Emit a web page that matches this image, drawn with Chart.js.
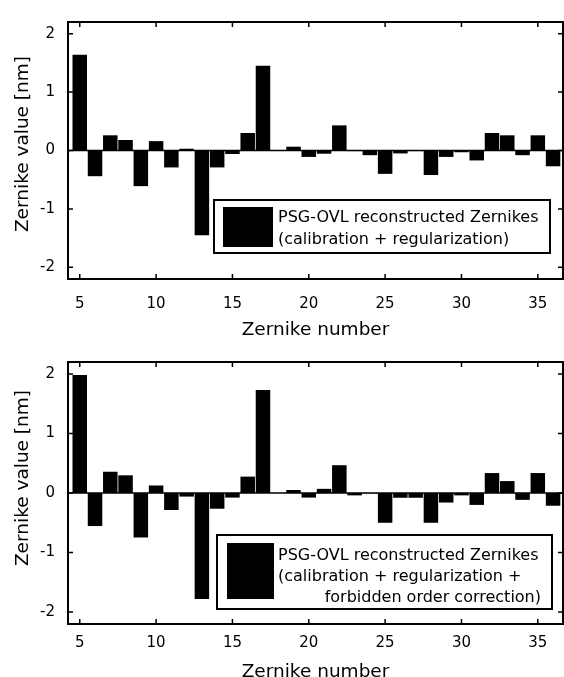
<!DOCTYPE html>
<html>
<head>
<meta charset="utf-8">
<script src="https://cdn.jsdelivr.net/npm/chart.js@4.4.0/dist/chart.umd.min.js"></script>
<style>
    html, body { margin: 0; padding: 0; background: #fff; }
    .panel { position: relative; width: 564px; }
    #panel-top { height: 340px; }
    #panel-bottom { height: 337px; }
</style>
</head>
<body>
<div class="panel" id="panel-top"><canvas id="chart-top"></canvas></div>
<div class="panel" id="panel-bottom"><canvas id="chart-bottom"></canvas></div>
<script>
const zernikeNumbers = [5, 6, 7, 8, 9, 10, 11, 12, 13, 14, 15, 16, 17, 18, 19, 20,
    21, 22, 23, 24, 25, 26, 27, 28, 29, 30, 31, 32, 33, 34, 35, 36];
const calibRegValues = [1.64, -0.44, 0.26, 0.18, -0.61, 0.16, -0.29, 0.03, -1.45, -0.29, -0.06, 0.30, 1.45, 0.005, 0.065, -0.11,
    -0.055, 0.43, -0.01, -0.08, -0.40, -0.05, -0.01, -0.42, -0.11, -0.03, -0.17, 0.30, 0.26, -0.08, 0.26, -0.27];
const calibRegForbiddenValues = [1.98, -0.555, 0.357, 0.297, -0.747, 0.126, -0.286, -0.06, -1.78, -0.264, -0.077, 0.275, 1.73, 0.0, 0.05, -0.077,
    0.07, 0.467, -0.04, -0.005, -0.50, -0.08, -0.08, -0.50, -0.16, -0.04, -0.20, 0.335, 0.20, -0.115, 0.335, -0.214];
const xTickValues = [5, 10, 15, 20, 25, 30, 35];
const yTickValues = [-2, -1, 0, 1, 2];
const legendTop = ['PSG-OVL reconstructed Zernikes', '(calibration + regularization)'];
const legendBottom = ['PSG-OVL reconstructed Zernikes', '(calibration + regularization +', 'forbidden order correction)'];

const FONT = "'DejaVu Sans', Verdana, sans-serif";

document.addEventListener('DOMContentLoaded', function() {
    showChart('chart-top', calibRegValues, {
        padTop: 11, xHeight: 61, xTickPad: 16,
        yTitleY: 144, xTitleY: 330,
        box: [214, 200, 550, 253], swatch: [223, 207, 273, 247],
        lines: legendTop, lineY: [218, 240], textX: 278, alignLast: false
    });
    showChart('chart-bottom', calibRegForbiddenValues, {
        padTop: 16, xHeight: 53, xTickPad: 10,
        yTitleY: 138, xTitleY: 332,
        box: [217, 195, 552, 269], swatch: [227, 203, 274, 259],
        lines: legendBottom, lineY: [216, 237, 258], textX: 278, alignLast: 541
    });
});

// frame, inward ticks, zero line, legend box and axis titles
const framePlugin = {
    id: 'frame',
    afterDatasetsDraw(chart) {
        const ctx = chart.ctx;
        const area = chart.chartArea;
        const x = chart.scales.x, y = chart.scales.y;
        ctx.save();
        ctx.strokeStyle = '#000';
        ctx.lineWidth = 1.5;
        const y0 = y.getPixelForValue(0);
        ctx.beginPath();
        ctx.moveTo(area.left, y0);
        ctx.lineTo(area.right, y0);
        ctx.stroke();
        ctx.restore();
    },
    afterDraw(chart, args, opts) {
        const ctx = chart.ctx;
        const area = chart.chartArea;
        const x = chart.scales.x, y = chart.scales.y;
        ctx.save();
        ctx.strokeStyle = '#000';
        ctx.lineWidth = 2;
        ctx.strokeRect(area.left, area.top, area.right - area.left, area.bottom - area.top);
        ctx.lineWidth = 1.5;
        const tl = 5;
        ctx.beginPath();
        xTickValues.forEach(v => {
            const px = x.getPixelForValue(v);
            ctx.moveTo(px, area.top); ctx.lineTo(px, area.top + tl);
            ctx.moveTo(px, area.bottom); ctx.lineTo(px, area.bottom - tl);
        });
        yTickValues.forEach(v => {
            const py = y.getPixelForValue(v);
            ctx.moveTo(area.left, py); ctx.lineTo(area.left + tl, py);
            ctx.moveTo(area.right, py); ctx.lineTo(area.right - tl, py);
        });
        ctx.stroke();

        // legend
        const b = opts.box, s = opts.swatch;
        ctx.fillStyle = '#fff';
        ctx.fillRect(b[0], b[1], b[2] - b[0], b[3] - b[1]);
        ctx.lineWidth = 2;
        ctx.strokeRect(b[0], b[1], b[2] - b[0], b[3] - b[1]);
        ctx.fillStyle = '#000';
        ctx.fillRect(s[0], s[1], s[2] - s[0], s[3] - s[1]);
        ctx.font = '16px ' + FONT;
        ctx.textBaseline = 'middle';
        opts.lines.forEach((t, i) => {
            if (opts.alignLast && i === opts.lines.length - 1) {
                ctx.textAlign = 'right';
                ctx.fillText(t, opts.alignLast, opts.lineY[i]);
            } else {
                ctx.textAlign = 'left';
                ctx.fillText(t, opts.textX, opts.lineY[i]);
            }
        });

        // axis titles
        ctx.font = '18.5px ' + FONT;
        ctx.textAlign = 'center';
        ctx.fillText('Zernike number', (area.left + area.right) / 2, opts.xTitleY);
        ctx.translate(23, opts.yTitleY);
        ctx.rotate(-Math.PI / 2);
        ctx.fillText('Zernike value [nm]', 0, 0);
        ctx.restore();
    }
};

function showChart(id, values, cfg) {
    const canvasChart = document.getElementById(id)?.getContext('2d');
    if (!canvasChart) return;
    new Chart(canvasChart, {
        type: 'bar',
        data: {
            datasets: [{
                data: zernikeNumbers.map((n, i) => ({ x: n, y: values[i] })),
                backgroundColor: '#000',
                borderWidth: 0,
                barPercentage: 0.95,
                categoryPercentage: 1.0
            }]
        },
        options: {
            responsive: true,
            maintainAspectRatio: false,
            animation: false,
            layout: { padding: { top: cfg.padTop, right: 1, left: 0, bottom: 0 } },
            plugins: {
                legend: { display: false },
                tooltip: { enabled: false },
                frame: cfg
            },
            scales: {
                x: {
                    type: 'linear',
                    offset: false,
                    min: 4.23,
                    max: 36.65,
                    afterBuildTicks: scale => { scale.ticks = xTickValues.map(v => ({ value: v })); },
                    afterFit: scale => { scale.height = cfg.xHeight; },
                    grid: { display: false, drawTicks: false },
                    border: { display: false },
                    ticks: { color: '#000', padding: cfg.xTickPad, maxRotation: 0, font: { family: FONT, size: 15 } }
                },
                y: {
                    min: -2.2,
                    max: 2.2,
                    afterBuildTicks: scale => { scale.ticks = yTickValues.map(v => ({ value: v })); },
                    afterFit: scale => { scale.width = 68; },
                    grid: { display: false, drawTicks: false },
                    border: { display: false },
                    ticks: { color: '#000', padding: 13, font: { family: FONT, size: 15 } }
                }
            }
        },
        plugins: [framePlugin]
    });
}
</script>
</body>
</html>
